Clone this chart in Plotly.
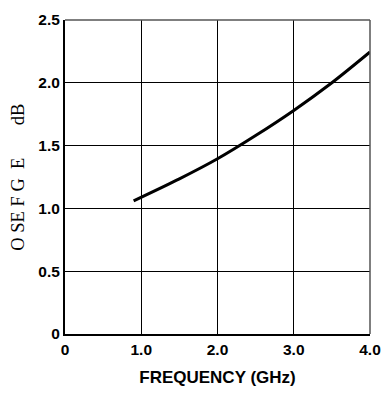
import plotly.graph_objects as go

freq_ghz = [0.9, 1.5, 2.0, 2.5, 3.0, 3.5, 4.0]
noise_db = [1.06, 1.235, 1.395, 1.58, 1.78, 2.0, 2.245]

x_tickvals = [0, 1, 2, 3, 4]
x_ticktext = ["0", "1.0", "2.0", "3.0", "4.0"]
y_tickvals = [0, 0.5, 1.0, 1.5, 2.0, 2.5]
y_ticktext = ["0", "0.5", "1.0", "1.5", "2.0", "2.5"]

tick_font = dict(family="Liberation Sans", size=15.5, color="black")

fig = go.Figure()
fig.add_trace(go.Scatter(
    x=freq_ghz, y=noise_db, mode="lines",
    line=dict(color="black", width=3, shape="spline", smoothing=0.8),
    hoverinfo="skip", showlegend=False,
))

fig.update_layout(
    width=392, height=395,
    margin=dict(l=65, r=14, t=11, b=58),
    paper_bgcolor="white", plot_bgcolor="white",
    xaxis=dict(
        range=[0, 4], tickvals=x_tickvals,
        ticktext=["<b>%s</b>" % t for t in x_ticktext],
        showgrid=True, gridcolor="black", gridwidth=1,
        showline=True, linecolor="black", linewidth=2,
        ticks="", tickfont=tick_font, zeroline=False,
        title=dict(text="<b>FREQUENCY (GHz)</b>",
                   font=dict(family="Liberation Sans", size=17, color="black"),
                   standoff=15),
    ),
    yaxis=dict(
        range=[0, 2.5], tickvals=y_tickvals,
        ticktext=["<b>%s</b>" % t for t in y_ticktext],
        showgrid=True, gridcolor="black", gridwidth=1,
        showline=True, linecolor="black", linewidth=2,
        ticks="", tickfont=tick_font, zeroline=False,
    ),
    annotations=[dict(
        text="O SE F G&nbsp; E&nbsp;&nbsp;&nbsp;&nbsp;&nbsp;&nbsp;&nbsp;dB", xref="paper", yref="paper",
        x=-0.155, y=0.5, xanchor="center", yanchor="middle",
        textangle=-90, showarrow=False,
        font=dict(family="Liberation Serif", size=18.5, color="black"),
    )],
    shapes=[
        dict(type="line", xref="paper", yref="paper", x0=0, x1=1, y0=1, y1=1,
             line=dict(color="#555555", width=1.5)),
        dict(type="line", xref="paper", yref="paper", x0=1, x1=1, y0=0, y1=1,
             line=dict(color="#555555", width=1.5)),
    ],
)

fig.write_html("out.html")
